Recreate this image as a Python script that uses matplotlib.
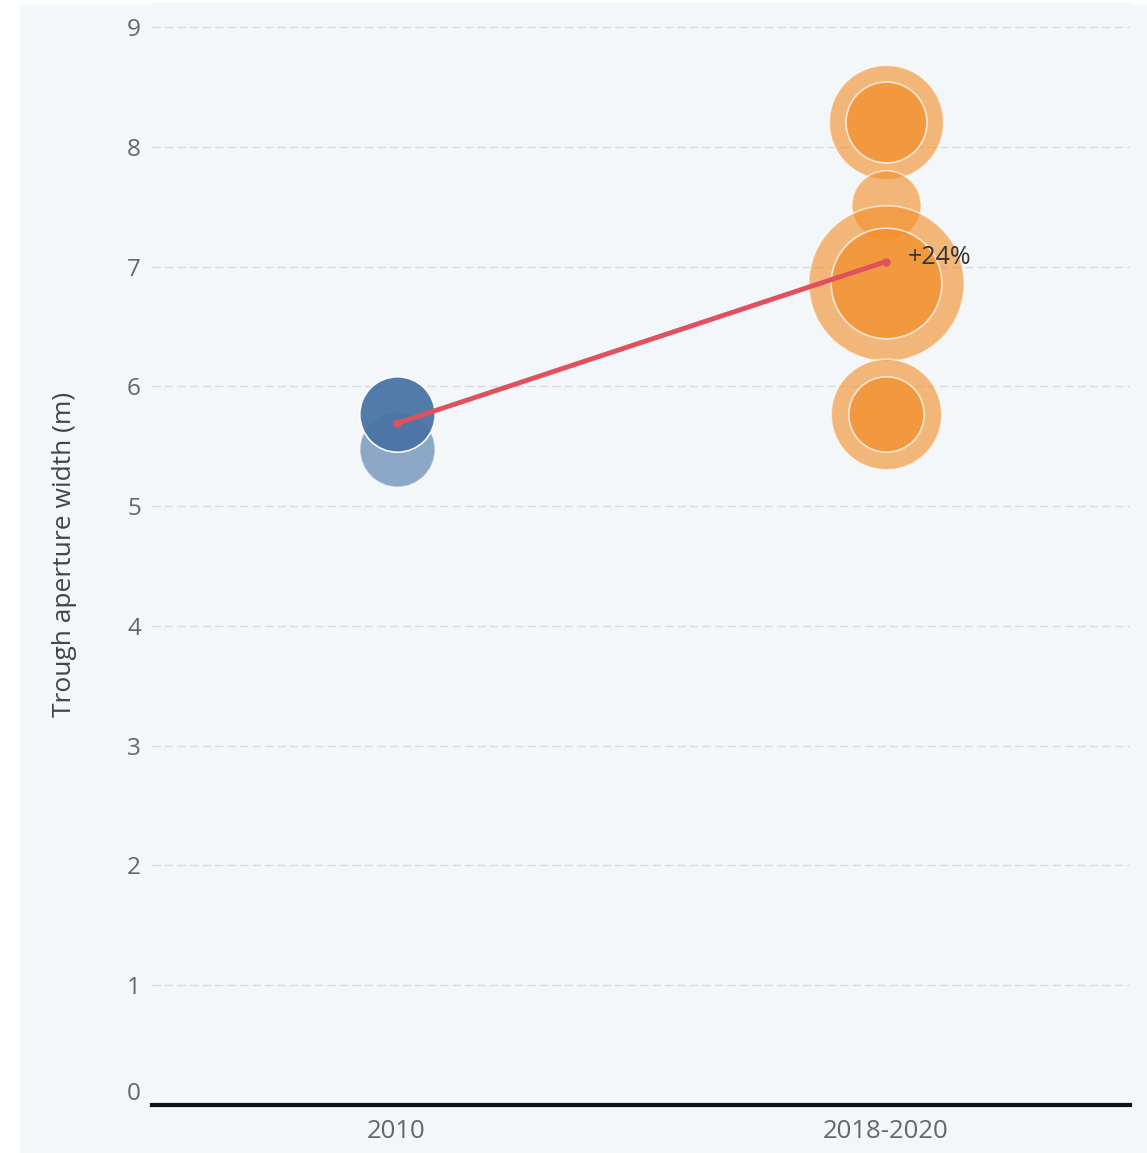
import matplotlib.pyplot as plt
import matplotlib.patches as mpatches
import matplotlib.transforms as mtransforms

plt.rcParams['font.family'] = ['Open Sans', 'DejaVu Sans']

# =========================
# Data
# =========================
categories = ['2010', '2018-2020']

# individual bubbles: category index, aperture width (m), bubble weight, layer (outer / inner)
bubble_cat = [0, 0, 1, 1, 1, 1, 1, 1, 1]
bubble_width = [5.48, 5.77, 8.21, 8.21, 7.51, 6.86, 6.86, 5.77, 5.77]
bubble_weight = [1.0, 1.0, 2.3, 1.15, 0.85, 4.25, 2.15, 2.15, 1.0]
bubble_inner = [False, True, False, True, False, False, True, False, True]

# mean per period
mean_width = [5.69, 7.04]

# =========================
# Figure
# =========================
bg = '#f3f7f9'
fig = plt.figure(figsize=(11.47, 11.53), dpi=100, facecolor='white')
fig.patches.append(mpatches.Rectangle((20 / 1147, 0), 1, 1 - 5 / 1153,
                                      transform=fig.transFigure, color=bg, zorder=-10))
ax = fig.add_axes([152 / 1147, 48 / 1153, (1130 - 152) / 1147, (1105 - 3) / 1153])
ax.set_facecolor(bg)

colors = ['#4a74a5', '#f28e2b']
scale = 2950  # points^2 per unit weight
for c, w, s, inner in zip(bubble_cat, bubble_width, bubble_weight, bubble_inner):
    if c == 0:
        a = 0.95 if inner else 0.6
    else:
        a = 0.72 if inner else 0.62
    ax.scatter(c, w, s=s * scale, color=colors[c], alpha=a,
               edgecolors='white', linewidths=1.2, zorder=3)

# mean line
ax.plot([0, 1], mean_width, color='#e0515d', lw=3.5, zorder=5,
        marker='o', markersize=5, solid_capstyle='round')
pct = (mean_width[1] / mean_width[0] - 1) * 100
ax.annotate(f'+{pct:.0f}%', (1, mean_width[1]), xytext=(16, 3), textcoords='offset points',
            fontsize=18, color='#333333', va='center', ha='left', zorder=6)

# =========================
# Axes
# =========================
ax.set_xlim(-0.5, 1.5)
ax.set_ylim(0, 9.2)
ax.set_xticks([0, 1])
ax.set_xticklabels(categories)
ax.set_yticks(range(0, 10))
ax.tick_params(axis='both', length=0, labelcolor='#666666')
ax.tick_params(axis='x', pad=10, labelsize=18.5)
ax.tick_params(axis='y', pad=8, labelsize=17.5)
# zero label sits above the baseline
zero_lbl = ax.get_yticklabels()[0]
zero_lbl.set_transform(zero_lbl.get_transform() +
                       mtransforms.ScaledTranslation(0, 14 / 100, fig.dpi_scale_trans))
for y in range(1, 10):
    ax.axhline(y, color='#d8dcde', lw=1, ls=(0, (6, 3)), zorder=1)
for sp in ['top', 'right', 'left']:
    ax.spines[sp].set_visible(False)
ax.spines['bottom'].set_color('#111111')
ax.spines['bottom'].set_linewidth(3)
ax.set_ylabel('Trough aperture width (m)', fontsize=19, color='#444444', labelpad=36)

plt.savefig('out.png', dpi=100, facecolor=fig.get_facecolor())
